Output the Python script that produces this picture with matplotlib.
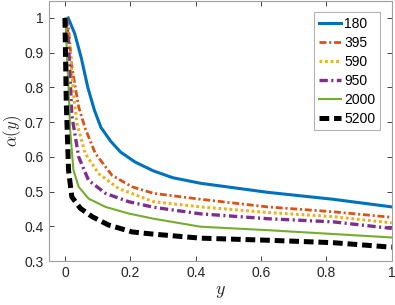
import numpy as np
import matplotlib
matplotlib.use("Agg")
import matplotlib.pyplot as plt
from matplotlib.ticker import FormatStrFormatter

plt.rcParams['font.family'] = ['Liberation Sans', 'DejaVu Sans']
plt.rcParams['mathtext.fontset'] = 'cm'
plt.rcParams['lines.scale_dashes'] = False

# data
labels = ['180', '395', '590', '950', '2000', '5200']

x_180 = [0.01, 0.03, 0.05, 0.07, 0.09, 0.11, 0.14, 0.17, 0.215, 0.27, 0.33, 0.415, 0.62, 0.82, 1.0]
y_180 = [1.0, 0.955, 0.885, 0.80, 0.735, 0.685, 0.645, 0.614, 0.585, 0.56, 0.54, 0.524, 0.498, 0.478, 0.456]

x_395 = [0.005, 0.011, 0.021, 0.042, 0.062, 0.093, 0.144, 0.205, 0.271, 0.415, 0.62, 0.82, 1.0]
y_395 = [1.0, 0.97, 0.86, 0.744, 0.682, 0.61, 0.547, 0.514, 0.495, 0.478, 0.456, 0.442, 0.426]

x_590 = [0.004, 0.016, 0.026, 0.037, 0.062, 0.103, 0.164, 0.271, 0.415, 0.62, 0.82, 1.0]
y_590 = [1.0, 0.907, 0.78, 0.696, 0.61, 0.552, 0.509, 0.471, 0.456, 0.44, 0.428, 0.41]

x_950 = [0.003, 0.011, 0.021, 0.042, 0.072, 0.124, 0.195, 0.271, 0.415, 0.62, 0.82, 1.0]
y_950 = [1.0, 0.926, 0.72, 0.6, 0.533, 0.495, 0.471, 0.455, 0.436, 0.422, 0.413, 0.394]

x_2000 = [0.002, 0.006, 0.011, 0.016, 0.026, 0.042, 0.072, 0.124, 0.195, 0.271, 0.415, 0.62, 0.82, 1.0]
y_2000 = [1.0, 0.897, 0.801, 0.677, 0.562, 0.514, 0.48, 0.456, 0.437, 0.422, 0.399, 0.389, 0.378, 0.368]

x_5200 = [0.0, 0.004, 0.011, 0.021, 0.047, 0.083, 0.133, 0.205, 0.266, 0.415, 0.62, 0.82, 1.0]
y_5200 = [1.0, 0.76, 0.562, 0.485, 0.452, 0.428, 0.404, 0.384, 0.378, 0.366, 0.36, 0.353, 0.34]

fig = plt.figure(figsize=(3.95, 3.05), dpi=100)
ax = fig.add_axes([0.123, 0.144, 0.869, 0.854])

txt = '#262626'
ax.plot(x_180, y_180, color='#0072BD', lw=2.2, label=labels[0])
ax.plot(x_395, y_395, color='#D95319', lw=2.0, dashes=(5, 2, 1.5, 2), label=labels[1])
ax.plot(x_590, y_590, color='#EDB120', lw=2.2, dashes=(2, 2), label=labels[2])
ax.plot(x_950, y_950, color='#7E2F8E', lw=2.4, dashes=(6, 2.5, 1.5, 2.5), label=labels[3])
ax.plot(x_2000, y_2000, color='#77AC30', lw=1.5, label=labels[4])
ax.plot(x_5200, y_5200, color='black', lw=3.6, dashes=(7, 3.5), label=labels[5])

ax.set_xlim(-0.05, 1)
ax.set_ylim(0.3, 1.05)
ax.set_xticks([0, 0.2, 0.4, 0.6, 0.8, 1])
ax.set_yticks([0.3, 0.4, 0.5, 0.6, 0.7, 0.8, 0.9, 1])
ax.xaxis.set_major_formatter(FormatStrFormatter('%g'))
ax.yaxis.set_major_formatter(FormatStrFormatter('%g'))
ax.tick_params(direction='in', top=True, right=True, length=3.5, width=0.6,
               colors=txt, labelsize=10, labelcolor=txt)
for s in ax.spines.values():
    s.set_color('#a0a0a0')
    s.set_linewidth(0.8)

ax.set_xlabel(r'$y$', fontsize=13, color=txt, labelpad=2)
ax.set_ylabel(r'$\alpha(y)$', fontsize=12, color=txt, labelpad=0)

leg = ax.legend(loc='upper right', fontsize=10, handlelength=1.6, handletextpad=0.2,
                labelspacing=0.35, borderpad=0.35, borderaxespad=0.85, fancybox=False)
leg.get_frame().set_edgecolor('#a0a0a0')
leg.get_frame().set_linewidth(0.8)

fig.savefig('out.png', dpi=100)
